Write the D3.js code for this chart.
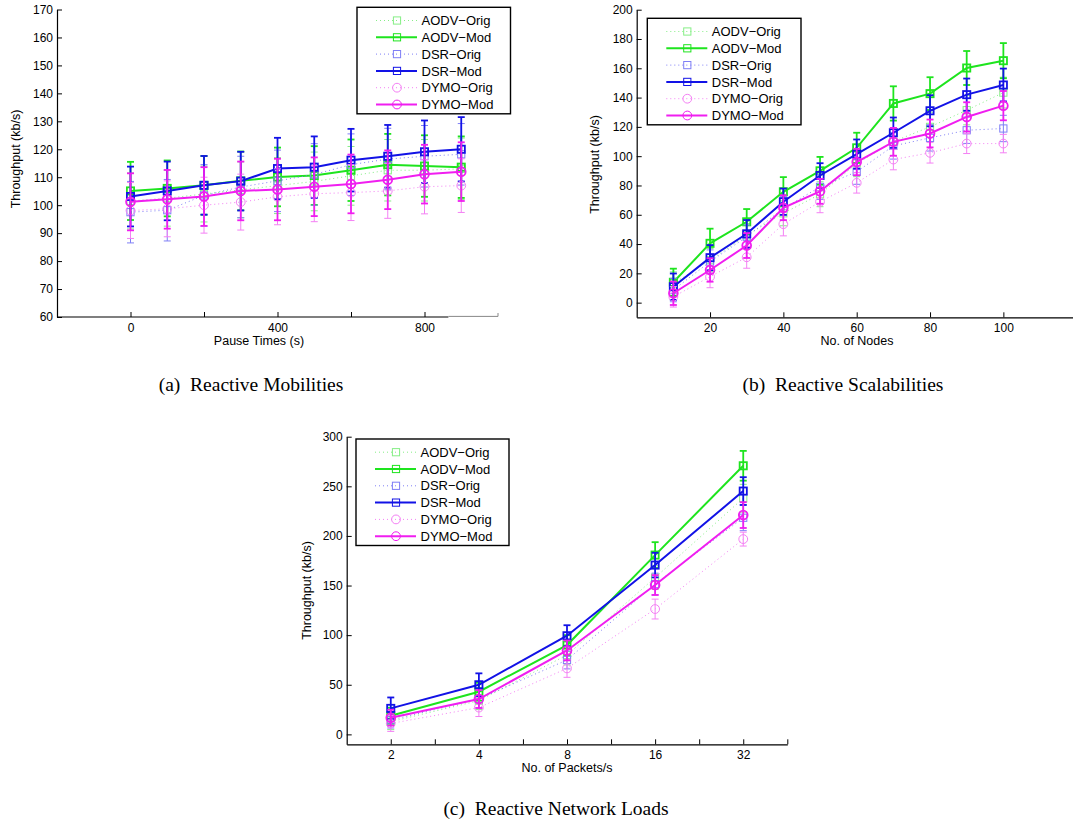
<!DOCTYPE html>
<html>
<head>
<meta charset="utf-8">
<script src="https://cdn.jsdelivr.net/npm/d3@7"></script>
<style>
  body { margin: 0; background: #fff; }
  svg { display: block; }
</style>
</head>
<body>
<div id="chart"></div>
<script>
// Series names, in plotting order
const seriesNames = ["AODV-Orig", "AODV-Mod", "DSR-Orig", "DSR-Mod", "DYMO-Orig", "DYMO-Mod"];

// (a) Reactive Mobilities
const pauseTimes = [0, 100, 200, 300, 400, 500, 600, 700, 800, 900];
const mobAodvOrig = [101.5, 102.5, 104, 105.5, 107, 108.5, 110.5, 112.5, 112.5, 113];
const mobAodvMod  = [105.1, 106, 107.1, 108.7, 110.1, 110.6, 112.5, 114.5, 114, 113.6];
const mobDsrOrig  = [97.5, 98.2, 103.5, 106.5, 108.7, 111, 114.5, 116.5, 117.5, 118.2];
const mobDsrMod   = [103.1, 105.1, 107.1, 108.6, 113.1, 113.6, 116.1, 117.5, 119.1, 120];
const mobDymoOrig = [98.1, 98.7, 100, 101.1, 103, 104.1, 104.5, 105.1, 106.6, 107];
const mobDymoMod  = [101.2, 102.1, 103.1, 105.1, 105.6, 106.6, 107.6, 109.1, 111.1, 112];
const mobAodvOrigErr = [10, 10, 10, 10, 10, 10.5, 10.5, 11, 11, 11];
const mobAodvModErr  = [10.4, 10, 10.5, 10.5, 10.5, 10.5, 11, 11, 11, 11];
const mobDsrOrigErr  = [11, 11, 11, 11, 11, 11, 11, 11, 11, 11];
const mobDsrModErr   = [10.7, 10.5, 10.5, 10.5, 11, 11, 11.2, 11.2, 11.2, 11.5];
const mobDymoOrigErr = [10, 10, 10, 10, 10, 10, 10, 9.8, 9.7, 9.6];
const mobDymoModErr  = [10.2, 10.5, 10.5, 10.5, 11, 10.5, 10.5, 10.5, 10.5, 10.5];

// (b) Reactive Scalabilities
const nodeCounts = [10, 20, 30, 40, 50, 60, 70, 80, 90, 100];
const scaAodvOrig = [13, 29, 46, 61, 74, 95, 110, 120, 131.4, 143.4];
const scaAodvMod  = [13.9, 40.5, 55.2, 75.7, 90, 105.7, 136, 142.7, 160.2, 165.2];
const scaDsrOrig  = [8.6, 28, 45, 64.3, 79, 89.3, 107, 112.5, 117.7, 118.9];
const scaDsrMod   = [10.9, 30.7, 47, 68.9, 86.8, 101.4, 116, 131, 142, 148.6];
const scaDymoOrig = [4, 17.7, 31, 53.6, 68.9, 81.8, 97.7, 102.3, 108.6, 108.6];
const scaDymoMod  = [6.4, 22.3, 39, 64.8, 76, 96, 109.8, 115.5, 126.8, 134.5];
const scaAodvOrigErr = [8, 8, 8, 8.5, 8.5, 9, 9.5, 10, 10, 10.5];
const scaAodvModErr  = [9.3, 10, 8.7, 10, 9.5, 10.3, 11.7, 11.2, 11.6, 12];
const scaDsrOrigErr  = [8, 8, 8, 8, 8.5, 8.5, 9, 9, 9, 9];
const scaDsrModErr   = [9, 8.6, 9.4, 9, 8.4, 10, 10.4, 10.6, 11, 11.2];
const scaDymoOrigErr = [7, 7.5, 7.5, 8, 7.5, 7, 7, 7, 6.8, 6.3];
const scaDymoModErr  = [8, 8, 8.5, 8.5, 8.5, 9, 9.5, 9.5, 10, 10];

// (c) Reactive Network Loads
const packetRates = ["2", "4", "8", "16", "32"];
const loadAodvOrig = [12.8, 34, 80, 158, 238];
const loadAodvMod  = [18.8, 43, 90, 180.7, 270.7];
const loadDsrOrig  = [14.4, 35.6, 75, 151.5, 218.3];
const loadDsrMod   = [26.2, 50, 99.4, 170.6, 245.2];
const loadDymoOrig = [11, 27, 66.5, 126.3, 196.8];
const loadDymoMod  = [16.8, 35.6, 84.6, 150.5, 221];
const loadAodvOrigErr = [8, 9, 10, 12, 14];
const loadAodvModErr  = [8, 9, 10, 13, 15];
const loadDsrOrigErr  = [8, 9, 9, 11, 13];
const loadDsrModErr   = [11, 11.5, 10.6, 12.4, 14];
const loadDymoOrigErr = [8, 9, 9, 10, 7];
const loadDymoModErr  = [8, 9, 10, 10, 13];

// Styles for the six series
const seriesStyle = [
  { color: "#86ee86", dotted: true,  symbol: "square" },
  { color: "#1ee41e", dotted: false, symbol: "square" },
  { color: "#7f7ff6", dotted: true,  symbol: "square" },
  { color: "#1212e6", dotted: false, symbol: "square" },
  { color: "#f480f4", dotted: true,  symbol: "circle" },
  { color: "#f01ef0", dotted: false, symbol: "circle" }
];

const svg = d3.select("#chart")
  .append("svg")
    .attr("width", 1073)
    .attr("height", 825);

const sansFont = "Liberation Sans, Arial, sans-serif";
const serifFont = "Liberation Serif, Times New Roman, serif";

function drawMarker(g, symbol, cx, cy, color, sw) {
  if (symbol === "square") {
    g.append("rect")
      .attr("x", cx - 3.6).attr("y", cy - 3.6)
      .attr("width", 7.2).attr("height", 7.2)
      .attr("fill", "none").attr("stroke", color).attr("stroke-width", sw);
  } else {
    g.append("circle")
      .attr("cx", cx).attr("cy", cy).attr("r", 4.4)
      .attr("fill", "none").attr("stroke", color).attr("stroke-width", sw);
  }
}

function drawPanel(p) {
  const g = svg.append("g")
    .attr("font-family", sansFont);

  // X axis
  const xAxis = d3.axisBottom(p.x)
    .tickValues(p.xTicks)
    .tickFormat(p.xFormat)
    .tickSize(-5)
    .tickSizeOuter(0)
    .tickPadding(6);
  const xg = g.append("g")
    .attr("transform", `translate(0,${p.y.range()[0]})`)
    .call(xAxis);
  xg.selectAll("text").attr("font-size", 12).attr("font-family", sansFont).attr("fill", "#000");
  xg.selectAll("line").attr("stroke", "#000");
  xg.select(".domain").attr("stroke", "#000").attr("stroke-width", 1.2);

  // Y axis
  const yAxis = d3.axisLeft(p.y)
    .tickValues(p.yTicks)
    .tickSize(-5)
    .tickSizeOuter(0)
    .tickPadding(4);
  const yg = g.append("g")
    .attr("transform", `translate(${p.x.range()[0]},0)`)
    .call(yAxis);
  yg.selectAll("text").attr("font-size", 12).attr("font-family", sansFont).attr("fill", "#000");
  yg.selectAll("line").attr("stroke", "#000");
  yg.select(".domain").attr("stroke", "#000").attr("stroke-width", 1.2);

  if (p.afterAxes) p.afterAxes(g, xg);

  // Series: line, error bars, markers
  p.series.forEach((s, k) => {
    const st = seriesStyle[k];
    const sg = g.append("g");
    const sw = st.dotted ? 1 : 2;
    const line = d3.line()
      .x((d, i) => p.x(p.xs[i]))
      .y(d => p.y(d));
    sg.append("path")
      .datum(s.values)
      .attr("d", line)
      .attr("fill", "none")
      .attr("stroke", st.color)
      .attr("stroke-width", sw)
      .attr("stroke-dasharray", st.dotted ? "1,3" : null);

    s.values.forEach((v, i) => {
      const cx = p.x(p.xs[i]);
      const y0 = p.y(v - s.errs[i]), y1 = p.y(v + s.errs[i]);
      const ew = st.dotted ? 1 : 1.8;
      sg.append("line").attr("x1", cx).attr("x2", cx).attr("y1", y0).attr("y2", y1)
        .attr("stroke", st.color).attr("stroke-width", ew);
      [y0, y1].forEach(yy => {
        sg.append("line").attr("x1", cx - 3.5).attr("x2", cx + 3.5).attr("y1", yy).attr("y2", yy)
          .attr("stroke", st.color).attr("stroke-width", ew);
      });
      drawMarker(sg, st.symbol, cx, p.y(v), st.color, st.dotted ? 1 : 1.8);
    });
  });

  // Legend
  const L = p.legend;
  const lg = g.append("g");
  lg.append("rect")
    .attr("x", L.x).attr("y", L.y)
    .attr("width", L.w).attr("height", 106.5)
    .attr("fill", "#fff")
    .attr("stroke", "#000")
    .attr("stroke-width", 1.4);
  seriesNames.forEach((name, k) => {
    const st = seriesStyle[k];
    const ry = L.y + 13.2 + k * 16.8;
    lg.append("line")
      .attr("x1", L.x + 19).attr("x2", L.x + 60)
      .attr("y1", ry).attr("y2", ry)
      .attr("stroke", st.color)
      .attr("stroke-width", st.dotted ? 1 : 2)
      .attr("stroke-dasharray", st.dotted ? "1,3" : null);
    drawMarker(lg, st.symbol, L.x + 40, ry, st.color, 1);
    lg.append("text")
      .attr("x", L.x + 64.5).attr("y", ry)
      .attr("dy", "0.36em")
      .attr("font-size", 13)
      .attr("fill", "#000")
      .text(name.replace("-", "\u2212"));
  });

  // Axis titles
  g.append("text")
    .attr("x", p.xTitlePos[0]).attr("y", p.xTitlePos[1])
    .attr("text-anchor", "middle")
    .attr("font-size", 12.5)
    .text(p.xTitle);
  g.append("text")
    .attr("transform", `translate(${p.yTitlePos[0]},${p.yTitlePos[1]}) rotate(-90)`)
    .attr("text-anchor", "middle")
    .attr("font-size", 12.5)
    .text("Throughput (kb/s)");

  // Caption
  g.append("text")
    .attr("x", p.captionPos[0]).attr("y", p.captionPos[1])
    .attr("text-anchor", "middle")
    .attr("font-family", serifFont)
    .attr("font-size", 19.5)
    .style("white-space", "pre")
    .text(p.caption);
}

// (a)
const xA = d3.scaleLinear().domain([-200, 1000]).range([57, 498]);
const yA = d3.scaleLinear().domain([60, 170]).range([317, 9.5]);
drawPanel({
  x: xA, y: yA, xs: pauseTimes,
  xTicks: [0, 200, 400, 600, 800],
  xFormat: d => (d % 400 === 0 ? d : ""),
  yTicks: d3.range(60, 171, 10),
  series: [
    { values: mobAodvOrig, errs: mobAodvOrigErr },
    { values: mobAodvMod,  errs: mobAodvModErr },
    { values: mobDsrOrig,  errs: mobDsrOrigErr },
    { values: mobDsrMod,   errs: mobDsrModErr },
    { values: mobDymoOrig, errs: mobDymoOrigErr },
    { values: mobDymoMod,  errs: mobDymoModErr }
  ],
  afterAxes: (g, xg) => {
    // axis line turns grey past the data range, as in the original
    xg.select(".domain").remove();
    const yb = yA.range()[0];
    g.append("line").attr("x1", xA(-200)).attr("x2", xA(865)).attr("y1", yb).attr("y2", yb)
      .attr("stroke", "#000").attr("stroke-width", 1.2);
    g.append("line").attr("x1", xA(865)).attr("x2", xA(1000)).attr("y1", yb - 0.6).attr("y2", yb - 0.6)
      .attr("stroke", "#888").attr("stroke-width", 1);
    g.append("line").attr("x1", xA(1000)).attr("x2", xA(1000)).attr("y1", yb - 0.6).attr("y2", yb - 4)
      .attr("stroke", "#888").attr("stroke-width", 1);
  },
  legend: { x: 357, y: 7.3, w: 153.5 },
  xTitle: "Pause Times (s)", xTitlePos: [259, 345],
  yTitlePos: [20, 159],
  caption: "(a)  Reactive Mobilities", captionPos: [251, 391]
});

// (b)
const xB = d3.scaleLinear().domain([0, 120]).range([636.7, 1076.7]);
const yB = d3.scaleLinear().domain([-10, 200]).range([317.3, 9.7]);
drawPanel({
  x: xB, y: yB, xs: nodeCounts,
  xTicks: [20, 40, 60, 80, 100],
  xFormat: d => d,
  yTicks: d3.range(0, 201, 20),
  series: [
    { values: scaAodvOrig, errs: scaAodvOrigErr },
    { values: scaAodvMod,  errs: scaAodvModErr },
    { values: scaDsrOrig,  errs: scaDsrOrigErr },
    { values: scaDsrMod,   errs: scaDsrModErr },
    { values: scaDymoOrig, errs: scaDymoOrigErr },
    { values: scaDymoMod,  errs: scaDymoModErr }
  ],
  legend: { x: 647.3, y: 18.3, w: 153.7 },
  xTitle: "No. of Nodes", xTitlePos: [857, 345],
  yTitlePos: [598.5, 164.5],
  caption: "(b)  Reactive Scalabilities", captionPos: [843, 391]
});

// (c) categorical x positions by index
const xC = d3.scaleLinear().domain([-0.5, 4.5]).range([346.7, 787.3]);
const yC = d3.scaleLinear().domain([-10, 300]).range([744.3, 436.7]);
drawPanel({
  x: xC, y: yC, xs: packetRates.map((d, i) => i),
  xTicks: d3.range(0, 4.51, 0.5),
  xFormat: d => (Number.isInteger(d) ? packetRates[d] : ""),
  yTicks: d3.range(0, 301, 50),
  series: [
    { values: loadAodvOrig, errs: loadAodvOrigErr },
    { values: loadAodvMod,  errs: loadAodvModErr },
    { values: loadDsrOrig,  errs: loadDsrOrigErr },
    { values: loadDsrMod,   errs: loadDsrModErr },
    { values: loadDymoOrig, errs: loadDymoOrigErr },
    { values: loadDymoMod,  errs: loadDymoModErr }
  ],
  legend: { x: 356, y: 439, w: 153 },
  xTitle: "No. of Packets/s", xTitlePos: [567, 772],
  yTitlePos: [310.5, 590.5],
  caption: "(c)  Reactive Network Loads", captionPos: [556, 815]
});
</script>
</body>
</html>
